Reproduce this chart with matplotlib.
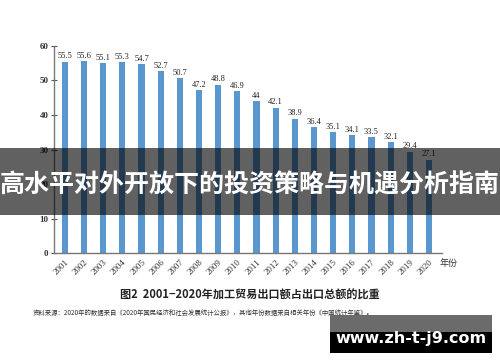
import matplotlib
matplotlib.use("Agg")
import matplotlib.pyplot as plt
from matplotlib.patches import Rectangle

years = [str(y) for y in range(2001, 2021)]
values = [55.5, 55.6, 55.1, 55.3, 54.7, 52.7, 50.7, 47.2, 48.8, 46.9,
          44, 42.1, 38.9, 36.4, 35.1, 34.1, 33.5, 32.1, 29.4, 27.1]
value_labels = ["55.5", "55.6", "55.1", "55.3", "54.7", "52.7", "50.7", "47.2", "48.8", "46.9",
                "44", "42.1", "38.9", "36.4", "35.1", "34.1", "33.5", "32.1", "29.4", "27.1"]
yticks = [0, 10, 20, 30, 40, 50, 60]
title = "图2  2001−2020年加工贸易出口额占出口总额的比重"
source = "资料来源：2020年的数据来自《2020年国民经济和社会发展统计公报》，其他年份数据来自相关年份《中国统计年鉴》。"
banner = "高水平对外开放下的投资策略与机遇分析指南"
watermark = "www.zh-t-j9.com"
xunit = "年份"

serif = ["Liberation Serif", "Noto Sans CJK SC"]
cjk = ["Noto Sans CJK SC", "DejaVu Sans"]

fig = plt.figure(figsize=(5.0, 3.62), dpi=100)
ax = fig.add_axes([0.108, 0.301, 0.776, 0.572])
x = list(range(len(years)))
ax.bar(x, values, width=0.32, color="#5b97cf", zorder=2)
for xi, v, lab in zip(x, values, value_labels):
    ax.text(xi, v + 0.4, lab, ha="center", va="bottom", fontsize=6,
            family=serif, color="#222222", clip_on=False)

ax.set_xlim(-0.57, 19.68)
ax.set_ylim(0, 60)
ax.set_yticks(yticks)
ax.set_yticklabels([str(t) for t in yticks], family=serif, fontsize=6.5,
                   fontweight="bold", color="#333333")
ax.set_xticks(x)
ax.set_xticklabels(years, rotation=45, ha="right", rotation_mode="anchor",
                   family=serif, fontsize=6.5, color="#333333")
ax.tick_params(axis="y", direction="inout", length=4, width=0.8, color="#555555", pad=2)
ax.tick_params(axis="x", length=0, pad=4)
for s in ["top", "right"]:
    ax.spines[s].set_visible(False)
for s in ["left", "bottom"]:
    ax.spines[s].set_color("#777777")
    ax.spines[s].set_linewidth(1.0)

fig.text(449 / 500, 1 - 263 / 362, xunit, ha="center", va="center",
         fontsize=6.5, family=cjk, color="#333333")
fig.text(0.5, 1 - 295 / 362, title, ha="center", va="center",
         fontsize=8, fontweight="bold", family=cjk, color="#222222")
fig.text(33 / 500, 1 - 313 / 362, source, ha="left", va="center",
         fontsize=4.6, family=cjk, color="#333333")

# banner overlay
fig.patches.append(Rectangle((0, 1 - 215 / 362), 1, 67 / 362, transform=fig.transFigure,
                             facecolor="black", alpha=0.62, edgecolor="none", zorder=5))
fig.text(0.5, 1 - 185 / 362, banner, ha="center", va="center", fontsize=18,
         fontweight="bold", family=cjk, color="white", zorder=6)

# watermark box
fig.patches.append(Rectangle((330 / 500, 1 - 332 / 362), 162 / 500, 17 / 362,
                             transform=fig.transFigure, facecolor="#6b6b6b",
                             edgecolor="none", zorder=5))
fig.patches.append(Rectangle((330 / 500, 1 - 353 / 362), 162 / 500, 21 / 362,
                             transform=fig.transFigure, facecolor="black",
                             edgecolor="none", zorder=5))
fig.text(411 / 500, 1 - 339 / 362, watermark, ha="center", va="center", fontsize=11.5,
         fontweight="bold", family=["DejaVu Sans"], color="white", zorder=6)

fig.savefig("out.png", dpi=100)
